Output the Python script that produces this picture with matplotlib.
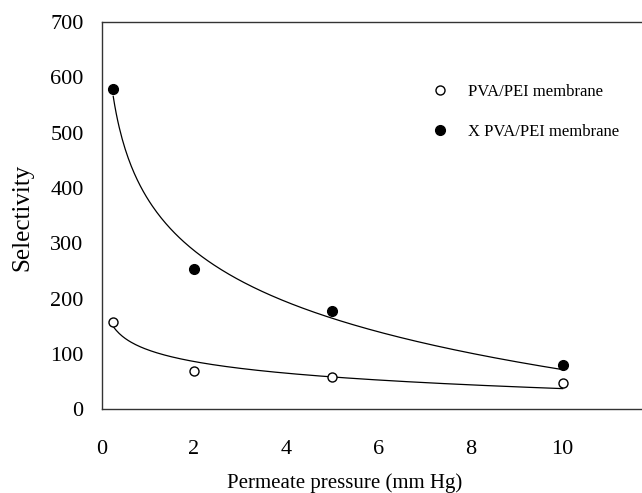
import numpy as np
import matplotlib
matplotlib.use('Agg')
import matplotlib.pyplot as plt

# Dados
pressao = [0.25, 2, 5, 10]
sel_pva_pei = [157, 70, 58, 47]
sel_x_pva_pei = [578, 253, 178, 80]

x_ticks = [0, 2, 4, 6, 8, 10]
y_ticks = [0, 100, 200, 300, 400, 500, 600, 700]

plt.rcParams['font.family'] = ['Liberation Serif', 'DejaVu Serif']

fig = plt.figure(figsize=(6.42, 4.93), dpi=100)
ax = fig.add_axes([0.1584, 0.1698, 0.8617, 0.7856])

# Linhas de tendência logarítmicas (como no Excel)
xs = np.linspace(min(pressao), max(pressao), 300)
for serie in [sel_pva_pei, sel_x_pva_pei]:
    b, a = np.polyfit(np.log(pressao), serie, 1)
    ax.plot(xs, a + b * np.log(xs), color='black', lw=0.9)

ax.plot(pressao, sel_pva_pei, 'o', ms=6.5, mfc='white', mec='black', mew=1.0,
        label='PVA/PEI membrane')
ax.plot(pressao, sel_x_pva_pei, 'o', ms=7, mfc='black', mec='black',
        label='X PVA/PEI membrane')

ax.set_xlim(0, 12)
ax.set_ylim(0, 700)
ax.set_xticks(x_ticks)
ax.set_yticks(y_ticks)
ax.tick_params(axis='both', length=0, labelsize=16)
ax.tick_params(axis='x', pad=22)
ax.tick_params(axis='y', pad=13)
ax.spines['right'].set_visible(False)
for s in ['left', 'bottom', 'top']:
    ax.spines[s].set_linewidth(1.0)
    ax.spines[s].set_color('#333333')

ax.set_xlabel('Permeate pressure (mm Hg)', fontsize=15, va='center')
ax.xaxis.set_label_coords(0.44, -0.19)
ax.set_ylabel('Selectivity', fontsize=18, va='center', ha='center')
ax.yaxis.set_label_coords(-0.144, 0.495)

ax.legend(loc='center left', bbox_to_anchor=(0.582, 0.768), frameon=False,
          fontsize=12, handlelength=1, handletextpad=1.18, labelspacing=1.47,
          borderpad=0)

fig.savefig('out.png', dpi=100)
